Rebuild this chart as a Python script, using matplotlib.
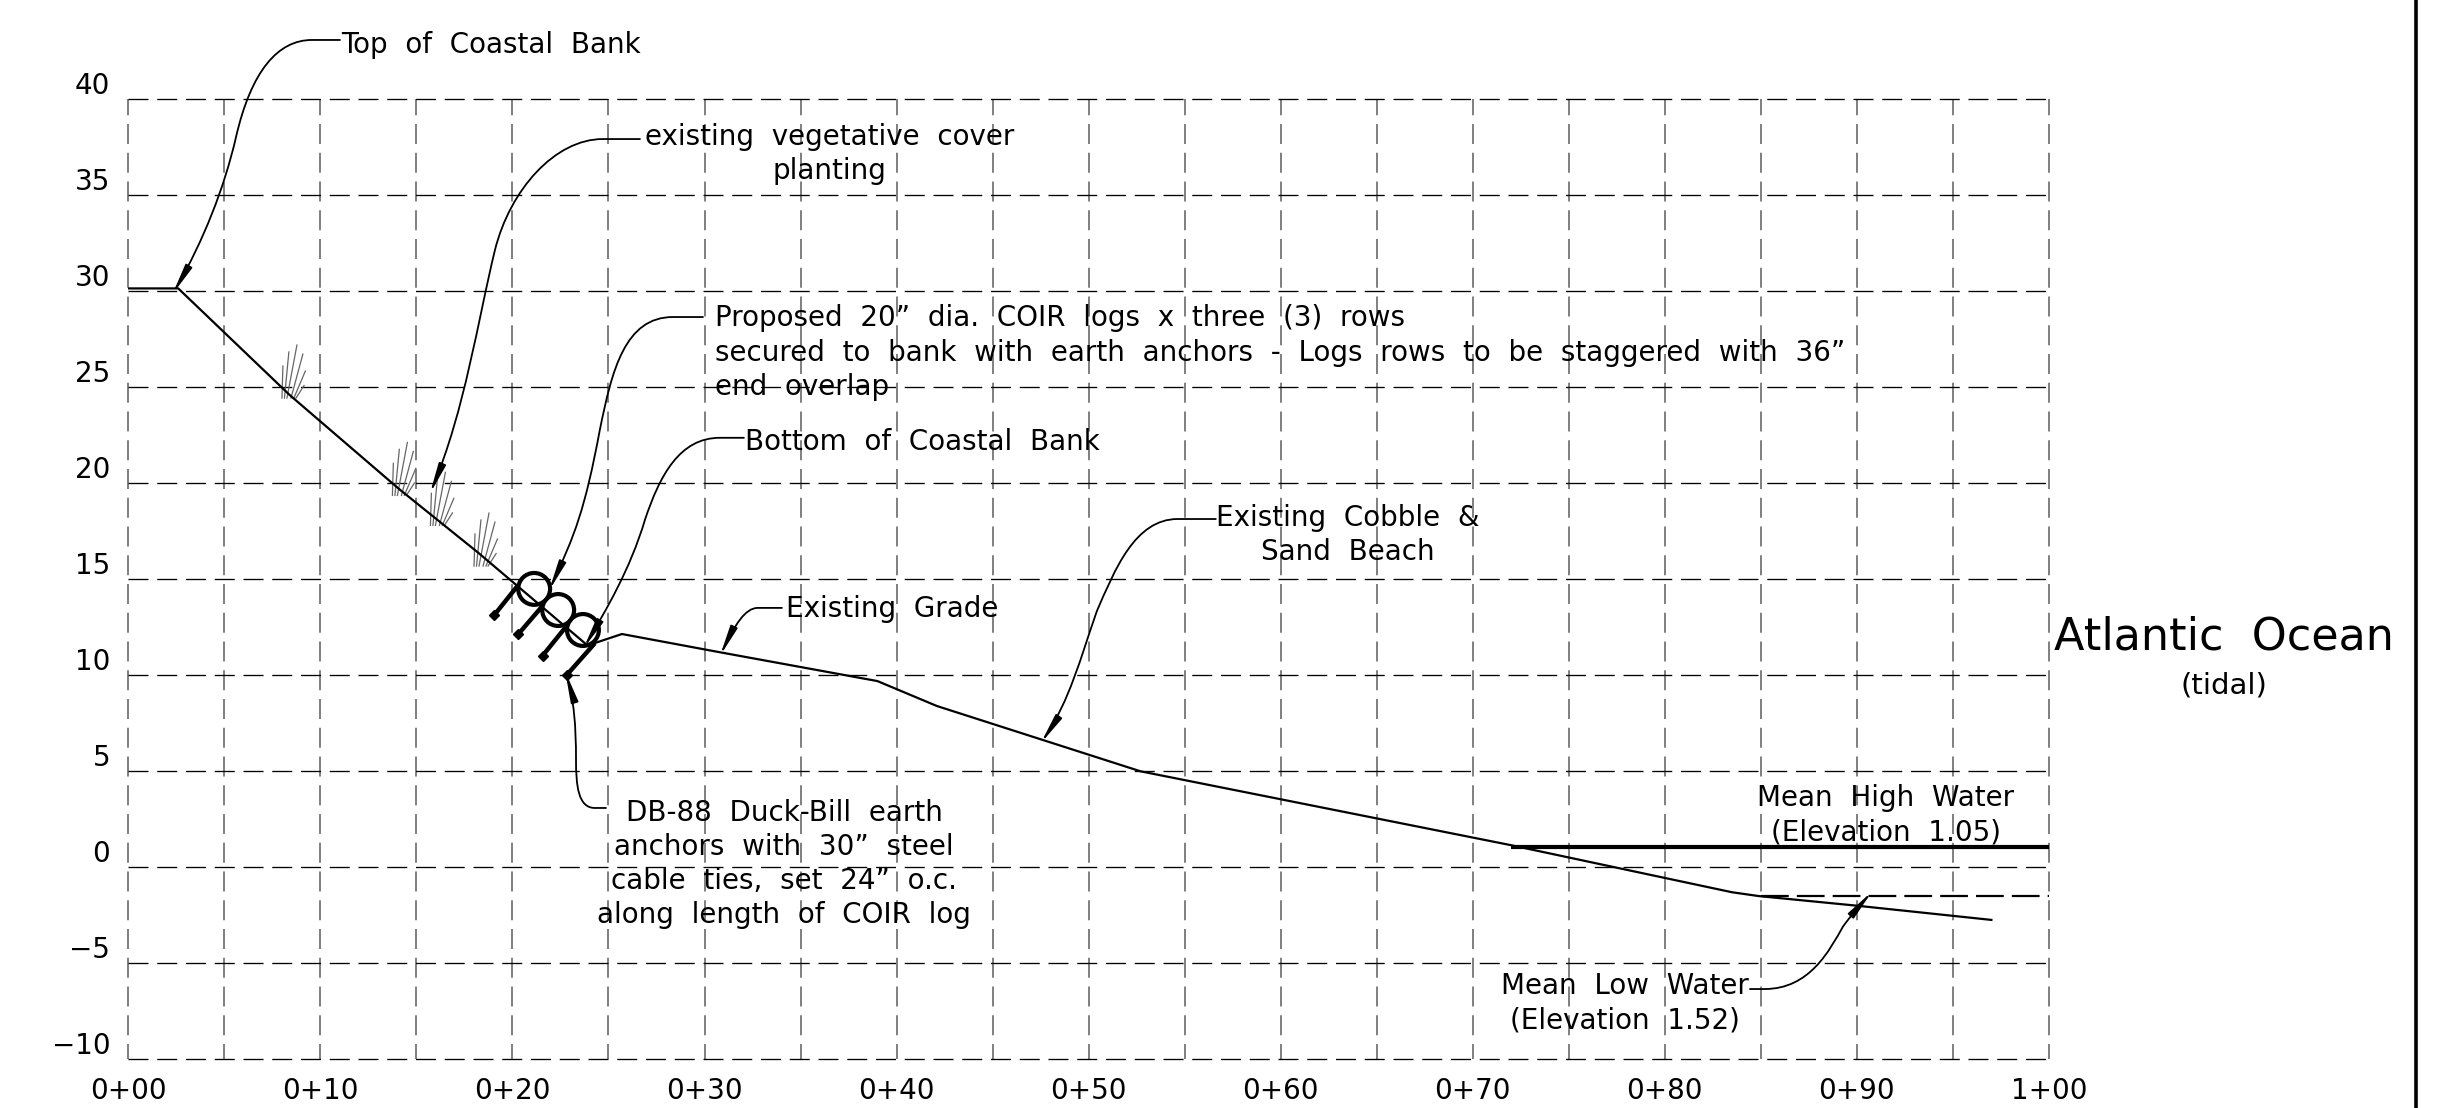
import matplotlib
matplotlib.use("Agg")
import matplotlib.pyplot as plt
from matplotlib.lines import Line2D
from matplotlib.patches import Circle, FancyArrowPatch
from matplotlib.path import Path
from matplotlib.transforms import ScaledTranslation

# dash lengths below are plain points
plt.rcParams["lines.scale_dashes"] = False

# station / elevation grid
x_ticks = list(range(0, 101, 5))
x_labels = ["0+00", "", "0+10", "", "0+20", "", "0+30", "", "0+40", "", "0+50", "",
            "0+60", "", "0+70", "", "0+80", "", "0+90", "", "1+00"]
y_ticks = [-10, -5, 0, 5, 10, 15, 20, 25, 30, 35, 40]
y_labels = ["\u221210", "\u22125", "0", "5", "10", "15", "20", "25", "30", "35", "40"]

# existing grade profile
grade_x = [0, 2.6, 8.4, 14.1, 18.2, 23.88, 24.29, 25.7, 30.8, 39.0, 42.1, 52.7, 72.0, 83.5, 84.9, 90.0, 97.0]
grade_y = [30.15, 30.15, 24.6, 19.7, 16.4, 11.58, 11.68, 12.15, 11.2, 9.7, 8.4, 5.0, 1.15, -1.3, -1.5, -2.0, -2.74]

# water levels
mhw_x = [72, 100]
mhw_y = [1.05, 1.05]
mlw_x = [85, 100]
mlw_y = [-1.52, -1.52]

# coir logs and anchors
log_x = [21.13, 22.38, 23.67]
log_y = [14.5, 13.4, 12.36]
log_r = 0.83
anchor_x0 = [20.30, 21.53, 22.82, 24.29]
anchor_y0 = [14.70, 13.57, 12.57, 11.67]
anchor_x1 = [19.04, 20.30, 21.57, 22.83]
anchor_y1 = [13.12, 12.14, 11.02, 10.02]

# grass tufts, base points and one fan of strokes
tuft_x = [8.0, 13.75, 15.73, 18.0]
tuft_y = [24.44, 19.37, 17.81, 15.69]
fan_base = [0, 0.13, 0.26, 0.47, 0.62, 0.73]
fan_dx = [0.05, 0.36, 0.78, 1.09, 1.22, 1.15]
fan_dy = [1.67, 2.4, 2.76, 2.29, 1.41, 0.65]

FONT = "DejaVu Sans"
FS = 20

fig = plt.figure(figsize=(24.56, 11.08), dpi=100)
ax = fig.add_axes([128.3 / 2456, 48.7 / 1108, 1920.7 / 2456, 960 / 1108])
ax.set_xlim(0, 100)
ax.set_ylim(-10, 40)
for s in ax.spines.values():
    s.set_visible(False)

ax.set_xticks(x_ticks)
ax.set_xticklabels(x_labels, fontsize=FS, family=FONT)
ax.set_yticks(y_ticks)
ax.set_yticklabels(y_labels, fontsize=FS, family=FONT)
ax.tick_params(axis="x", length=0, pad=13)
ax.tick_params(axis="y", length=0, pad=13)

# y labels sit above their grid line
up = ScaledTranslation(0, 16 / 100, fig.dpi_scale_trans)
for lab in ax.get_yticklabels():
    lab.set_transform(lab.get_transform() + up)

# 20 px on and 8.8 px off
on, off = 14.4, 6.3
ax.grid(axis="y", color="black", linewidth=0.95, linestyle=(0, (on, off)))
ax.grid(axis="x", color="#7f7f7f", linewidth=1.4, linestyle=(3.6, (on, off)))
for line in ax.get_xgridlines() + ax.get_ygridlines():
    line.set_clip_on(False)
ax.set_axisbelow(True)

ax.plot(grade_x, grade_y, color="black", linewidth=1.6, solid_joinstyle="round", zorder=3)
ax.plot(mhw_x, mhw_y, color="black", linewidth=3.0, solid_capstyle="butt", zorder=3, clip_on=False)
ax.plot(mlw_x, mlw_y, color="black", linewidth=1.6, linestyle=(0, (20, 5.8)), zorder=3, clip_on=False)

for tx, ty in zip(tuft_x, tuft_y):
    for b, dx, dy in zip(fan_base, fan_dx, fan_dy):
        ax.plot([tx + b, tx + dx], [ty, ty + dy], color="#666666", linewidth=0.9, zorder=2)

for lx, ly in zip(log_x, log_y):
    ax.add_patch(Circle((lx, ly), log_r, fill=False, edgecolor="black", linewidth=3.0, zorder=4))
for x0, y0, x1, y1 in zip(anchor_x0, anchor_y0, anchor_x1, anchor_y1):
    ax.plot([x0, x1], [y0, y1], color="black", linewidth=3.2, solid_capstyle="butt", zorder=4)
    ax.plot(x1, y1, marker="D", markersize=5, color="black", zorder=4)


def leader(start, *curves):
    # start point, then (ctrl, ctrl, end) for each bezier piece
    verts = [start[0], start[1]]
    codes = [Path.MOVETO, Path.LINETO]
    for c in curves:
        verts += list(c)
        codes += [Path.CURVE4] * 3
    arrow = FancyArrowPatch(path=Path(verts, codes), arrowstyle="-|>,head_length=1.8,head_width=0.22",
                            mutation_scale=10, color="black", linewidth=1.3, zorder=5, clip_on=False)
    ax.add_patch(arrow)


leader([(11.02, 43.09), (9.56, 43.09)],
       [(7.8, 43.09), (6.4, 41.5), (5.6, 38.0)],
       [(5.0, 35.4), (3.9, 32.6), (2.3, 29.85)])
leader([(26.64, 37.93), (24.71, 37.93)],
       [(22.21, 37.93), (19.87, 35.28), (19.09, 32.15)],
       [(18.20, 28.51), (17.53, 23.82), (15.7, 19.45)])
leader([(29.92, 28.66), (28.36, 28.66)],
       [(25.86, 28.66), (25.18, 25.9), (24.55, 22.78)],
       [(23.77, 18.61), (23.25, 17.31), (21.9, 14.4)])
leader([(32.05, 22.37), (30.80, 22.37)],
       [(28.72, 22.37), (27.68, 20.44), (26.90, 18.10)],
       [(26.12, 15.49), (24.87, 13.40), (23.7, 11.4)])
leader([(34.03, 13.51), (32.78, 13.51)],
       [(32.11, 13.51), (31.58, 12.62), (30.8, 11.0)])
leader([(56.62, 18.14), (54.64, 18.14)],
       [(52.40, 18.14), (51.36, 15.48), (50.43, 13.35)],
       [(49.54, 10.8), (49.02, 8.71), (47.5, 6.45)])
leader([(24.87, 3.09), (24.29, 3.09)],
       [(23.41, 3.09), (23.31, 4.29), (23.31, 5.59)],
       [(23.31, 7.41), (23.20, 8.71), (22.75, 10.2)])
leader([(84.43, -6.34), (85.2, -6.34)],
       [(87.54, -6.34), (88.58, -4.31), (89.26, -3.11)],
       [(89.62, -2.59), (90.04, -2.12), (90.8, -1.25)])


def note(x, y, s, ha="left", size=FS):
    # the drawing font has wide word gaps
    ax.text(x, y, s.replace(" ", "  "), ha=ha, va="center", fontsize=size, family=FONT, color="black",
            linespacing=1.28, zorder=6)


note(11.08, 42.82, "Top of Coastal Bank")
note(36.5, 37.15, "existing vegetative cover\nplanting", ha="center")
note(30.56, 26.81, "Proposed 20\u201d dia. COIR logs x three (3) rows\n"
                   "secured to bank with earth anchors - Logs rows to be staggered with 36\u201d\n"
                   "end overlap")
note(32.11, 22.17, "Bottom of Coastal Bank")
note(34.23, 13.45, "Existing Grade")
note(63.5, 17.32, "Existing Cobble &\nSand Beach", ha="center")
note(34.15, 0.18, "DB-88 Duck-Bill earth\nanchors with 30\u201d steel\ncable ties, set 24\u201d o.c.\n"
                  "along length of COIR log", ha="center")
note(91.5, 2.70, "Mean High Water\n(Elevation 1.05)", ha="center")
note(77.9, -7.07, "Mean Low Water\n(Elevation 1.52)", ha="center")
note(109.1, 11.99, "Atlantic Ocean", ha="center", size=32)
note(109.1, 9.46, "(tidal)", ha="center", size=21)

# sheet border on the right
fig.add_artist(Line2D([2416 / 2456, 2416 / 2456], [0, 1], color="black", linewidth=2.6))

fig.savefig("out.png", dpi=100)
